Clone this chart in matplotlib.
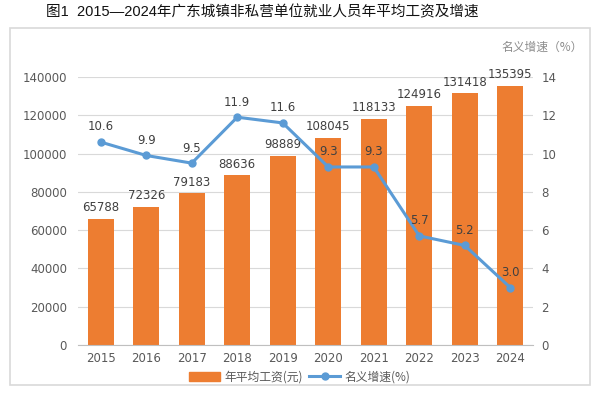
import numpy as np
import matplotlib.pyplot as plt
from matplotlib.patches import Rectangle
from matplotlib.lines import Line2D
from matplotlib.patches import Patch

plt.rcParams['font.family'] = ['Noto Sans CJK SC', 'DejaVu Sans']

years = ['2015', '2016', '2017', '2018', '2019', '2020', '2021', '2022', '2023', '2024']
wages = [65788, 72326, 79183, 88636, 98889, 108045, 118133, 124916, 131418, 135395]
growth = [10.6, 9.9, 9.5, 11.9, 11.6, 9.3, 9.3, 5.7, 5.2, 3.0]

bar_color = '#ED7D31'
line_color = '#5B9BD5'
text_color = '#595959'

fig = plt.figure(figsize=(6, 3.95), dpi=100)
fig.patches.append(Rectangle((10 / 600, 1 - 385 / 395), 580 / 600, 357 / 395,
                             transform=fig.transFigure, fill=False,
                             edgecolor='#D9D9D9', linewidth=1.2))
fig.text(262 / 600, 1 - 12 / 395, '图1  2015—2024年广东城镇非私营单位就业人员年平均工资及增速',
         ha='center', va='center', fontsize=10.5, color='#111111',
         family=['Liberation Sans', 'Noto Sans CJK SC'])

ax = fig.add_axes([78 / 600, 1 - 345 / 395, 455 / 600, 268 / 395])
x = np.arange(len(years))
ax.bar(x, wages, width=0.57, color=bar_color, zorder=2)
ax.set_ylim(0, 140000)
ax.set_yticks(np.arange(0, 140001, 20000))
ax.set_xlim(-0.5, len(years) - 0.5)
ax.set_xticks(x)
ax.set_xticklabels(years, fontfamily='DejaVu Sans')
ax.grid(axis='y', color='#D9D9D9', linewidth=0.8, zorder=0)
for s in ['top', 'right', 'left']:
    ax.spines[s].set_visible(False)
ax.spines['bottom'].set_color('#BFBFBF')
ax.tick_params(axis='y', length=0, labelsize=8.5, colors=text_color, pad=8)
ax.tick_params(axis='x', length=0, labelsize=8.5, colors=text_color, pad=5)
for lab in ax.get_yticklabels():
    lab.set_fontfamily('DejaVu Sans')
for xi, w in zip(x, wages):
    ax.text(xi, w + 2500, str(w), ha='center', va='bottom', fontsize=8.5,
            color='#404040', fontfamily='DejaVu Sans')

ax2 = ax.twinx()
ax2.plot(x, growth, color=line_color, linewidth=2.2, marker='o', markersize=5, zorder=3)
ax2.set_ylim(0, 14)
ax2.set_yticks(np.arange(0, 15, 2))
for s in ['top', 'right', 'left', 'bottom']:
    ax2.spines[s].set_visible(False)
ax2.tick_params(axis='y', length=0, labelsize=8.5, colors=text_color, pad=6)
for lab in ax2.get_yticklabels():
    lab.set_fontfamily('DejaVu Sans')
for xi, g in zip(x, growth):
    ax2.text(xi, g + 0.45, f'{g:.1f}', ha='center', va='bottom', fontsize=8.5,
             color='#404040', fontfamily='DejaVu Sans')

fig.text(583 / 600, 1 - 47 / 395, '名义增速（%）', ha='right', va='center',
         fontsize=8.5, color='#8C8C8C')

handles = [Patch(color=bar_color),
           Line2D([0], [0], color=line_color, linewidth=2.2, marker='o', markersize=5)]
fig.legend(handles, ['年平均工资(元)', '名义增速(%)'], loc='center',
           bbox_to_anchor=(0.5, 1 - 377 / 395), ncol=2, frameon=False,
           fontsize=8.5, labelcolor=text_color, handlelength=2.6, columnspacing=0.5,
           handletextpad=0.4)

fig.savefig('out.png', dpi=100)
